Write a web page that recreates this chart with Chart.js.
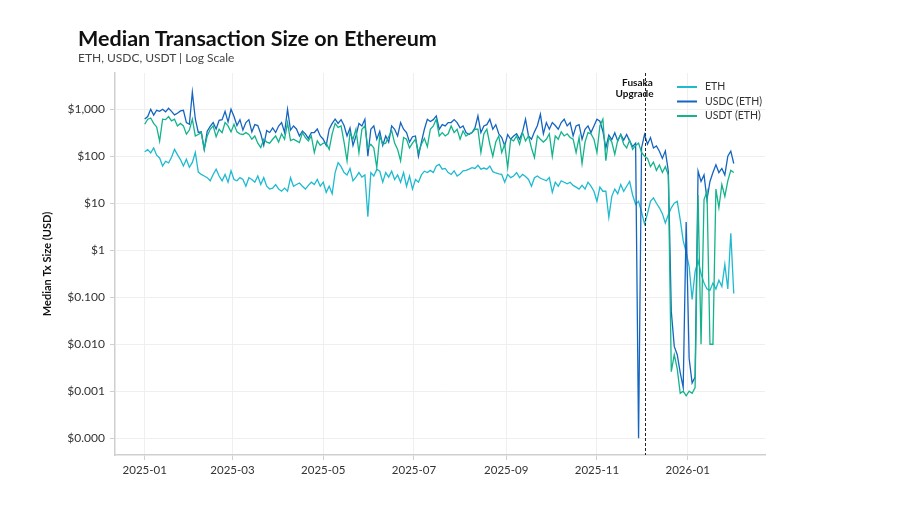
<!DOCTYPE html>
<html>
<head>
<meta charset="utf-8">
<script src="https://cdn.jsdelivr.net/npm/chart.js@4.4.1/dist/chart.umd.min.js"></script>
<style>
  html, body { margin: 0; padding: 0; background: #fff; }
  #wrap { position: relative; width: 899px; height: 505px; }
  #title { position: absolute; left: 78px; top: 25px; font: 700 21.5px Lato, sans-serif; color: #111; white-space: nowrap; }
  #sub { position: absolute; left: 78px; top: 50px; font: 12px Lato, sans-serif; color: #444; white-space: nowrap; }
  canvas { position: absolute; left: 0; top: 0; }
</style>
</head>
<body>
<div id="wrap">
  <canvas id="chart" width="899" height="505"></canvas>
  <div id="title">Median Transaction Size on Ethereum</div>
  <div id="sub">ETH, USDC, USDT | Log Scale</div>
</div>
<script>
// ---------- Data (one value every 2 days from 2025-01-01) ----------
const DAY_STEP = 2;

const ETH_USD = [
  125, 138, 118, 150, 105, 92, 62, 78, 72, 95,
  140, 108, 85, 62, 86, 58, 74, 120, 46, 41,
  38, 35, 30, 41, 53, 38, 30, 41, 28, 49,
  32, 30, 35, 32, 23, 35, 32, 28, 38, 25,
  35, 23, 20, 21, 25, 20, 18, 21, 18, 35,
  23, 25, 27, 23, 20, 24, 28, 25, 32, 23,
  28, 17, 23, 16, 45, 73, 60, 45, 40, 55,
  30, 36, 45, 36, 40, 5.2, 45, 38, 53, 48,
  28, 45, 36, 48, 32, 40, 28, 45, 23, 38,
  20, 32, 28, 40, 48, 45, 50, 45, 62, 67,
  53, 55, 45, 41, 49, 38, 42, 49, 50, 53,
  57, 55, 64, 53, 56, 53, 62, 47, 44, 42,
  41, 28, 41, 35, 38, 45, 35, 41, 37, 32,
  23, 35, 38, 34, 32, 30, 35, 17, 28, 23,
  30, 28, 26, 28, 24, 22, 20, 24, 20, 28,
  23, 18, 11, 22, 18, 18, 5, 14, 20, 16,
  25, 18, 23, 29, 15, 9.5, 11, 6.5, 3.6, 6,
  11, 13, 10, 8, 6, 3.8, 5.7, 8, 10, 11,
  4.5, 1.6, 0.9, 0.45, 0.09, 0.35, 0.6, 0.32, 0.2, 0.15,
  0.14, 0.2, 0.15, 0.23, 0.17, 0.5, 0.15, 2.3, 0.12
];

const USDC_USD = [
  620, 700, 1000, 750, 950, 900, 1000, 880, 1050, 900,
  760, 820, 920, 950, 520, 480, 2300, 620, 320, 330,
  140, 340, 430, 520, 380, 580, 600, 900, 540, 1000,
  700, 450, 600, 360, 520, 600, 330, 470, 450, 300,
  170, 350, 320, 400, 320, 440, 520, 320, 1000, 360,
  440, 380, 270, 345, 300, 240, 318, 320, 380, 270,
  230, 170, 375, 500, 613, 500, 600, 450, 270, 400,
  170, 270, 500, 442, 613, 100, 375, 442, 230, 340,
  170, 270, 200, 442, 375, 270, 520, 375, 318, 200,
  260, 270, 100, 200, 375, 613, 550, 600, 720, 375,
  470, 442, 520, 520, 600, 520, 400, 440, 320, 290,
  318, 400, 720, 320, 440, 470, 613, 375, 470, 300,
  250, 166, 290, 230, 270, 300, 230, 330, 613, 270,
  230, 330, 450, 780, 300, 520, 375, 520, 450, 375,
  520, 613, 442, 520, 270, 442, 470, 230, 375, 442,
  318, 440, 613, 555, 340, 150, 280, 225, 315, 210,
  290, 220, 290, 210, 160, 190, 0.0001, 150, 290, 180,
  250, 150, 165, 128, 90, 130, 48, 0.05, 0.009, 0.006,
  0.0025, 0.0012, 4, 0.005, 0.0015, 0.002, 48, 29, 40, 12,
  29, 45, 66, 45, 55, 40, 100, 128, 70
];

const USDT_USD = [
  480, 613, 650, 500, 420, 210, 613, 600, 700, 565,
  613, 442, 500, 442, 295, 360, 613, 270, 290, 318,
  140, 270, 375, 442, 260, 375, 318, 520, 442, 330,
  480, 330, 300, 290, 318, 290, 230, 270, 190, 153,
  230, 200, 190, 230, 270, 200, 300, 230, 520, 215,
  230, 212, 195, 318, 250, 212, 270, 120, 212, 170,
  190, 190, 140, 300, 500, 410, 440, 200, 80, 318,
  230, 375, 120, 375, 440, 150, 180, 150, 57, 270,
  180, 190, 260, 350, 190, 140, 80, 250, 230, 150,
  190, 230, 120, 180, 240, 160, 375, 440, 613, 270,
  318, 270, 300, 442, 318, 375, 230, 345, 270, 300,
  318, 375, 375, 120, 300, 375, 180, 100, 200, 270,
  120, 180, 57, 230, 212, 270, 180, 318, 212, 270,
  150, 94, 270, 230, 200, 230, 300, 100, 270, 230,
  330, 270, 300, 250, 230, 120, 250, 70, 200, 318,
  300, 230, 120, 440, 613, 80, 250, 200, 110, 220,
  290, 180, 150, 220, 140, 170, 190, 120, 100, 90,
  60, 75, 50, 65, 45, 60, 40, 0.0026, 0.006, 0.003,
  0.0009, 0.001, 0.0008, 0.001, 0.0009, 0.0012, 15, 0.01, 12, 18,
  0.01, 0.01, 20, 8, 25, 14, 30, 50, 45
];

const SERIES_NAMES = ["ETH", "USDC (ETH)", "USDT (ETH)"];
const SERIES_COLORS = ["#1fbad0", "#1565c0", "#13b38b"];

// x ticks: days since 2025-01-01
const X_TICK_DAYS = [0, 59, 120, 181, 243, 304, 365];
const X_TICK_LABELS = ["2025-01", "2025-03", "2025-05", "2025-07", "2025-09", "2025-11", "2026-01"];

const Y_TICKS = [0.0001, 0.001, 0.01, 0.1, 1, 10, 100, 1000];
const Y_TICK_LABELS = ["$0.000", "$0.001", "$0.010", "$0.100", "$1", "$10", "$100", "$1,000"];

const FUSAKA_DAY = 336; // 2025-12-03
const FUSAKA_LABEL = ["Fusaka", "Upgrade"];

// ---------- Helpers ----------
const toPoints = (arr) => arr.map((v, i) => ({ x: i * DAY_STEP, y: v }));
const FONT = "Lato, 'Noto Sans', sans-serif";

const overlay = {
  id: "overlay",
  afterDatasetsDraw(chart) {
    const { ctx, chartArea, scales } = chart;
    const x = Math.round(scales.x.getPixelForValue(FUSAKA_DAY)) + 0.5;

    // Fusaka marker
    ctx.save();
    ctx.strokeStyle = "#222";
    ctx.lineWidth = 1;
    ctx.setLineDash([3, 2]);
    ctx.beginPath();
    ctx.moveTo(x, chartArea.top);
    ctx.lineTo(x, chartArea.bottom);
    ctx.stroke();
    ctx.setLineDash([]);
    ctx.fillStyle = "#111";
    ctx.font = `700 10px ${FONT}`;
    ctx.textAlign = "center";
    ctx.textBaseline = "alphabetic";
    ctx.fillText(FUSAKA_LABEL[0], x - 8, 86);
    ctx.fillText(FUSAKA_LABEL[1], x - 11, 97);

    // Legend
    ctx.font = `10.5px ${FONT}`;
    ctx.textAlign = "left";
    ctx.textBaseline = "middle";
    SERIES_NAMES.forEach((name, i) => {
      const y = 87 + i * 14.5;
      ctx.strokeStyle = SERIES_COLORS[i];
      ctx.lineWidth = 2;
      ctx.beginPath();
      ctx.moveTo(677, y);
      ctx.lineTo(697, y);
      ctx.stroke();
      ctx.fillStyle = "#333";
      ctx.fillText(name, 705, y);
    });
    ctx.restore();
  },
};

const datasets = [ETH_USD, USDC_USD, USDT_USD].map((arr, i) => ({
  label: SERIES_NAMES[i],
  data: toPoints(arr),
  borderColor: SERIES_COLORS[i],
  backgroundColor: SERIES_COLORS[i],
  borderWidth: 1.3,
  pointRadius: 0,
  tension: 0,
  order: 3 - i,
}));

new Chart(document.getElementById("chart"), {
  type: "line",
  data: { datasets },
  plugins: [overlay],
  options: {
    responsive: false,
    animation: false,
    devicePixelRatio: 1,
    layout: { padding: { left: 0, right: 134, top: 73, bottom: 0 } },
    plugins: { legend: { display: false }, tooltip: { enabled: false } },
    scales: {
      x: {
        type: "linear",
        min: -20,
        max: 417,
        afterFit: (s) => { s.height = 50; },
        afterBuildTicks: (s) => { s.ticks = X_TICK_DAYS.map((v) => ({ value: v })); },
        ticks: {
          color: "#333",
          font: { family: FONT, size: 11.5 },
          padding: 3,
          maxRotation: 0,
          callback: (v) => X_TICK_LABELS[X_TICK_DAYS.indexOf(v)],
        },
        grid: { color: "#efefef", tickColor: "#cfcfcf", tickLength: 5 },
        border: { color: "#cfcfcf", width: 1.5 },
      },
      y: {
        type: "logarithmic",
        min: 4.4e-5,
        max: 5900,
        afterFit: (s) => { s.width = 115; },
        afterBuildTicks: (s) => { s.ticks = Y_TICKS.map((v) => ({ value: v })); },
        ticks: {
          color: "#333",
          font: { family: FONT, size: 12 },
          padding: 5,
          callback: (v) => Y_TICK_LABELS[Y_TICKS.indexOf(v)],
        },
        grid: { color: "#efefef", tickColor: "#cfcfcf", tickLength: 5 },
        border: { color: "#cfcfcf", width: 1.5 },
        title: {
          display: true,
          text: "Median Tx Size (USD)",
          color: "#111",
          font: { family: FONT, size: 11, weight: "bold" },
          padding: { top: 41, bottom: 0 },
        },
      },
    },
  },
});
</script>
</body>
</html>
